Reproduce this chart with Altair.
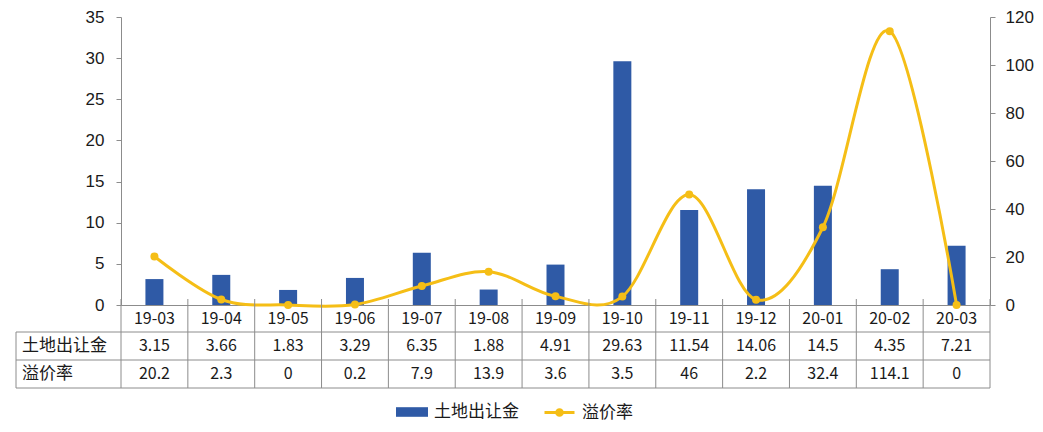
import altair as alt
import pandas as pd

months = ["19-03", "19-04", "19-05", "19-06", "19-07", "19-08", "19-09",
          "19-10", "19-11", "19-12", "20-01", "20-02", "20-03"]
land = [3.15, 3.66, 1.83, 3.29, 6.35, 1.88, 4.91, 29.63, 11.54, 14.06, 14.5, 4.35, 7.21]
premium = [20.2, 2.3, 0, 0.2, 7.9, 13.9, 3.6, 3.5, 46, 2.2, 32.4, 114.1, 0]
row_land = "土地出让金"
row_prem = "溢价率"
left_ticks = [0, 5, 10, 15, 20, 25, 30, 35]
right_ticks = [0, 20, 40, 60, 80, 100, 120]

df = pd.DataFrame({"month": months, "land": land, "premium": premium,
                   "s1": row_land, "s2": row_prem})

W, H = 869, 288
TOP = 9
BLUE = "#2F5AA6"
GOLD = "#F5BE16"
GRID = "#8C8C8C"
INK = "#1a1a1a"
CJK = "Noto Sans CJK SC"
LAT = "Liberation Sans"

xscale = alt.Scale(paddingInner=0, paddingOuter=0)
x_axis = alt.X("month:N", sort=months, scale=xscale,
               axis=alt.Axis(title=None, labelFont=CJK, labelFontSize=16, labelColor=INK,
                             labelAngle=0, labelBaseline="middle", labelPadding=13,
                             ticks=False, tickSize=0, domainColor=GRID, domainWidth=1))
x_plain = alt.X("month:N", sort=months, scale=xscale)

base = alt.Chart(df)

bar_sym = "M-1,-0.3H1V0.3H-1Z"
line_sym = ("M-1,0H1 M0.19,0A0.19,0.19 0 1,1 -0.19,0A0.19,0.19 0 1,1 0.19,0 "
            "M0.08,0A0.08,0.08 0 1,1 -0.08,0A0.08,0.08 0 1,1 0.08,0")

# table rows below the plot (plot-area coordinates)
R0 = H + 27      # bottom of the x-label row
R1 = H + 55      # bottom of the first data row
R2 = H + 83      # bottom of the table
Y1 = H + 41      # centre of first data row
Y2 = H + 69      # centre of second data row
HDR = -105

bars = base.mark_bar(size=18).encode(
    x=x_axis,
    y=alt.Y("land:Q", scale=alt.Scale(domain=[0, 35], nice=False),
            axis=alt.Axis(title=None, orient="left", values=left_ticks, labelFont=LAT,
                          labelFontSize=17, labelColor=INK, tickColor=GRID, tickSize=5,
                          labelPadding=12, domainColor=GRID, grid=False)),
    color=alt.Color("s1:N", scale=alt.Scale(range=[BLUE]),
                    legend=alt.Legend(title=None, orient="none", legendX=275, legendY=H + 91,
                                      symbolType=bar_sym, symbolSize=1024, labelFont=CJK,
                                      labelFontSize=17, labelColor=INK, labelOffset=6,
                                      padding=0, symbolStrokeWidth=0)),
)

line = base.mark_line(interpolate="cardinal", strokeWidth=3,
                      point=alt.OverlayMarkDef(filled=True, size=64)).encode(
    x=x_plain,
    y=alt.Y("premium:Q", scale=alt.Scale(domain=[0, 120], nice=False),
            axis=alt.Axis(title=None, orient="right", values=right_ticks, labelFont=LAT,
                          labelFontSize=17, labelColor=INK, tickColor=GRID, tickSize=5,
                          labelPadding=10, domainColor=GRID, grid=False)),
    color=alt.Color("s2:N", scale=alt.Scale(range=[GOLD]),
                    legend=alt.Legend(title=None, orient="none", legendX=422, legendY=H + 91,
                                      symbolType=line_sym, symbolSize=900, labelFont=CJK,
                                      labelFontSize=17, labelColor=INK, labelOffset=6,
                                      padding=0, symbolStrokeWidth=3,
                                      symbolFillColor=GOLD, symbolStrokeColor=GOLD)),
)

land_txt = base.mark_text(font=CJK, fontSize=16, color=INK).encode(
    x=x_plain, y=alt.value(Y1), text=alt.Text("land:Q", format=".4~g"))
prem_txt = base.mark_text(font=CJK, fontSize=16, color=INK).encode(
    x=x_plain, y=alt.value(Y2), text=alt.Text("premium:Q", format=".4~g"))

hdr = pd.DataFrame({"t": [row_land, row_prem], "r": [0, 1]})
hdr_land = alt.Chart(hdr).transform_filter("datum.r == 0").mark_text(
    font=CJK, fontSize=17, color=INK, align="left").encode(
    x=alt.value(HDR + 6), y=alt.value(Y1), text="t:N")
hdr_prem = alt.Chart(hdr).transform_filter("datum.r == 1").mark_text(
    font=CJK, fontSize=17, color=INK, align="left").encode(
    x=alt.value(HDR + 6), y=alt.value(Y2), text="t:N")

vsep = base.mark_rule(color=GRID, strokeWidth=1).encode(
    x=alt.X("month:N", sort=months, scale=xscale, bandPosition=0),
    y=alt.value(H - 6), y2=alt.value(R2))

one = alt.Chart(pd.DataFrame({"a": [0]}))


def hrule(y, x0):
    return one.mark_rule(color=GRID, strokeWidth=1).encode(
        x=alt.value(x0), x2=alt.value(W), y=alt.value(y))


right_border = one.mark_rule(color=GRID, strokeWidth=1).encode(
    x=alt.value(W), y=alt.value(H - 6), y2=alt.value(R2))
left_border = one.mark_rule(color=GRID, strokeWidth=1).encode(
    x=alt.value(HDR), y=alt.value(R0), y2=alt.value(R2))

chart = alt.layer(
    bars, line, land_txt, prem_txt, hdr_land, hdr_prem, vsep,
    hrule(R0, HDR), hrule(R1, HDR), hrule(R2, HDR), right_border, left_border,
).resolve_scale(
    y="independent", color="independent"
).properties(
    width=W, height=H,
    padding={"left": 113, "top": TOP, "right": 44, "bottom": 120},
    autosize=alt.AutoSizeParams(type="none"),
).configure_view(stroke=None)

chart.save("out.html", embed_options={"renderer": "svg", "actions": False})
